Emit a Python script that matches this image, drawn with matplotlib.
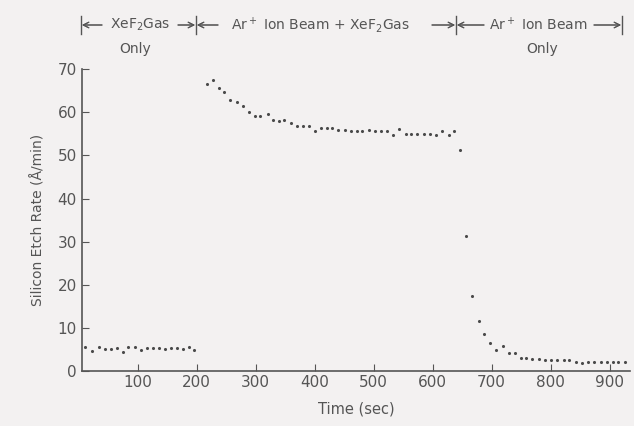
import matplotlib.pyplot as plt

plt.rcParams['font.family'] = ['DejaVu Sans']
plt.rcParams['mathtext.default'] = 'regular'

# XeF2 gas only
t_gas = [11, 23, 34, 44, 54, 64, 75, 84, 95, 105, 115, 125, 136, 146, 156, 166, 177, 187, 196]
r_gas = [5.4, 4.6, 5.4, 5.0, 5.0, 5.2, 4.4, 5.4, 5.4, 4.8, 5.3, 5.3, 5.3, 5.0, 5.3, 5.3, 5.0, 5.4, 4.8]

# Ar+ ion beam + XeF2 gas
t_both = [218, 227, 237, 247, 257, 268, 278, 289, 299, 308, 320, 330, 339, 348, 359, 370,
          380, 390, 400, 411, 421, 430, 440, 451, 461, 471, 481, 492, 502, 512, 522, 532,
          543, 554, 564, 573, 585, 595, 606, 616, 628, 637]
r_both = [66.5, 67.5, 65.8, 64.8, 63.0, 62.5, 61.4, 60.2, 59.2, 59.2, 59.7, 58.2, 58.0, 58.2,
          57.5, 56.9, 56.9, 56.8, 55.7, 56.4, 56.4, 56.3, 55.9, 55.9, 55.6, 55.6, 55.6, 55.9,
          55.6, 55.6, 55.6, 54.8, 56.1, 55.1, 55.1, 55.1, 55.0, 55.1, 54.8, 55.6, 54.8, 55.7]

# Ar+ ion beam only
t_ion = [647, 656, 666, 678, 687, 697, 708, 719, 729, 739, 750, 759, 768, 780, 790, 800,
         811, 822, 832, 843, 853, 863, 874, 885, 895, 905, 915, 927]
r_ion = [51.3, 31.2, 17.3, 11.5, 8.4, 6.5, 4.7, 5.7, 4.1, 4.1, 3.0, 2.9, 2.8, 2.6, 2.4, 2.4,
         2.4, 2.4, 2.4, 2.1, 1.7, 2.1, 2.1, 2.1, 2.0, 2.0, 2.0, 2.0]

bg = '#f3f1f1'
ink = '#555555'

fig = plt.figure(figsize=(6.34, 4.26), dpi=100, facecolor=bg)
ax = fig.add_axes([0.129, 0.130, 0.865, 0.707], facecolor=bg)

for t, r in [(t_gas, r_gas), (t_both, r_both), (t_ion, r_ion)]:
    ax.scatter(t, r, s=5, color='#4a4a4a', zorder=3, linewidths=0)

ax.set_xlim(5, 935)
ax.set_ylim(0, 70)
ax.set_xticks(range(100, 1000, 100))
ax.set_yticks(range(0, 80, 10))
for s in ['top', 'right']:
    ax.spines[s].set_visible(False)
for s in ['left', 'bottom']:
    ax.spines[s].set_color(ink)
    ax.spines[s].set_linewidth(1.2)
ax.tick_params(direction='in', length=5, color=ink, labelcolor=ink, labelsize=11)
ax.set_xlabel('Time (sec)', color=ink, fontsize=10.5, labelpad=8)
ax.set_ylabel('Silicon Etch Rate (Å/min)', color=ink, fontsize=10, labelpad=9)

# header with arrows
W = 634.0
def fx(px):
    return px / W

y1 = 1 - 25 / 426.0
y2 = 1 - 49 / 426.0
hs = 10
fig.text(fx(140), y1, 'XeF$_2$Gas', ha='center', va='center', color=ink, fontsize=hs)
fig.text(fx(135), y2, 'Only', ha='center', va='center', color=ink, fontsize=hs)
fig.text(fx(320), y1, 'Ar$^+$ Ion Beam + XeF$_2$Gas', ha='center', va='center', color=ink, fontsize=hs)
fig.text(fx(538), y1, 'Ar$^+$ Ion Beam', ha='center', va='center', color=ink, fontsize=hs)
fig.text(fx(542), y2, 'Only', ha='center', va='center', color=ink, fontsize=hs)

bars = [81, 196, 456, 622]
for b in bars:
    fig.add_artist(plt.Line2D([fx(b), fx(b)], [y1 - 0.022, y1 + 0.022], color=ink, lw=1))

arrows = [(102, 82), (178, 195), (218, 197), (432, 455), (484, 457), (594, 621)]
for start, end in arrows:
    fig.add_artist(plt.annotate('', xy=(fx(end), y1), xytext=(fx(start), y1),
                                xycoords='figure fraction', textcoords='figure fraction',
                                arrowprops=dict(arrowstyle='->', color=ink, lw=0.8,
                                                shrinkA=0, shrinkB=0)))

fig.savefig('out.png', dpi=100, facecolor=bg)
